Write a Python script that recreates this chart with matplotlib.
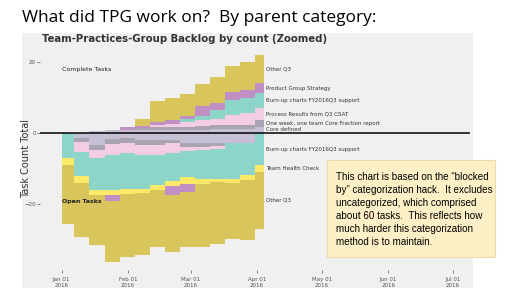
import numpy as np
import pandas as pd
import matplotlib
matplotlib.use("Agg")
import matplotlib.pyplot as plt
import matplotlib.dates as mdates
from matplotlib.patches import Rectangle

# weekly snapshots (start of each step) + end of data
dates = ["2016-01-01", "2016-01-07", "2016-01-14", "2016-01-21", "2016-01-28",
         "2016-02-04", "2016-02-11", "2016-02-18", "2016-02-25", "2016-03-03",
         "2016-03-10", "2016-03-17", "2016-03-24", "2016-03-31"]
end_date = "2016-04-04"

categories = ["Core defined", "One week, one team Core Fraction report",
              "Process Results from Q3 CSAT", "Burn-up charts FY2016Q3 support",
              "Team Health Check", "Product Group Strategy", "Other Q3"]

# completed tasks (stacked upwards)
done_core    = [0, 0, 0.5, 1.0, 0.8, 1.0, 1.0, 1.0, 1.0, 1.0, 1.2, 1.2, 1.2, 1.8]
done_oneweek = [0, 0, 0, 0, 0.2, 0.3, 0.8, 0.8, 0.7, 0.9, 1.0, 1.2, 1.2, 1.9]
done_process = [0, 0, 0, 0, 0, 0, 0.5, 0.8, 1.3, 1.9, 1.9, 2.8, 3.3, 3.3]
done_burnup  = [0, 0, 0, 0, 0, 0, 0, 0, 0.9, 0.9, 2.5, 4.2, 4.2, 4.2]
done_thc     = [0, 0, 0, 0, 0, 0, 0, 0, 0, 0, 0, 0, 0, 0]
done_pgs     = [0, 0, 0, 0, 0.8, 0.7, 0.8, 1.0, 1.0, 2.8, 1.9, 2.3, 2.3, 2.8]
done_other   = [0, 0, 0, 0, 0, 2.0, 6.0, 6.3, 6.1, 6.3, 7.2, 7.1, 7.8, 8.0]

# open tasks (stacked downwards)
open_core    = [0, 1.3, 3.4, 1.7, 1.4, 2.0, 2.0, 1.8, 2.9, 2.9, 2.9, 2.9, 2.9, 0]
open_oneweek = [0, 1.3, 1.4, 1.4, 1.4, 1.4, 1.4, 1.0, 1.1, 0.9, 0.6, 0, 0, 0]
open_process = [0, 2.8, 2.2, 3.1, 2.9, 2.8, 2.8, 2.9, 1.0, 1.0, 1.0, 0, 0, 0]
open_burnup  = [7.0, 6.7, 9.0, 9.8, 10.0, 9.4, 8.4, 7.9, 7.3, 8.0, 8.3, 10.1, 8.8, 9.0]
open_thc     = [2.0, 1.8, 1.5, 1.5, 1.5, 1.2, 1.4, 1.3, 1.9, 1.4, 1.0, 1.0, 1.6, 1.8]
open_pgs     = [0, 0, 0, 1.5, 0, 0, 0, 2.5, 2.3, 0, 0, 0, 0, 0]
open_other   = [16.5, 15.2, 14.0, 17.2, 17.6, 17.6, 16.0, 16.1, 15.5, 17.8, 17.3, 15.8, 16.7, 16.2]

colors = ["#c6c0d4", "#aaa3b1", "#f3cde3", "#8dd5c8", "#fde968", "#c18fc3", "#d8c65c"]

done = [done_core, done_oneweek, done_process, done_burnup, done_thc, done_pgs, done_other]
opn = [open_core, open_oneweek, open_process, open_burnup, open_thc, open_pgs, open_other]

x = pd.to_datetime(dates + [end_date])


def _ext(v):
    return np.array(v + [v[-1]], dtype=float)


panel_bg = "#f0f0f0"
fig = plt.figure(figsize=(5.12, 2.88), dpi=100)
fig.patch.set_facecolor("white")
fig.patches.append(Rectangle((22 / 512, 0), (473 - 22) / 512, 1 - 33 / 288,
                             transform=fig.transFigure, facecolor=panel_bg,
                             edgecolor="none", zorder=-5))

fig.text(22 / 512, 1 - 18 / 288, "What did TPG work on?  By parent category:",
         fontsize=12.5, family="Open Sans", va="center", ha="left", color="black")
fig.text(42 / 512, 1 - 39 / 288, "Team-Practices-Group Backlog by count (Zoomed)",
         fontsize=7.3, fontweight="bold", va="center", ha="left", color="#333333")

ax = fig.add_axes([40 / 512, 1 - 270 / 288, (470 - 40) / 512, (270 - 46) / 288])
ax.set_facecolor(panel_bg)
ax.set_zorder(1)

base = np.zeros(len(x))
for vals, c in zip(done, colors):
    top = base + _ext(vals)
    ax.fill_between(x, base, top, step="post", color=c, linewidth=0)
    base = top

base = np.zeros(len(x))
for vals, c in zip(opn, colors):
    bot = base - _ext(vals)
    ax.fill_between(x, base, bot, step="post", color=c, linewidth=0)
    base = bot

ax.axhline(0, color="black", linewidth=1.1, zorder=5)

# labels at the right end, centred on each band
lx = pd.Timestamp("2016-04-05")
b = 0.0
for name, vals in zip(categories, done):
    if vals[-1] > 0:
        ax.text(lx, b + vals[-1] / 2, name, fontsize=4, va="center", ha="left", color="#333333")
    b += vals[-1]
b = 0.0
for name, vals in zip(categories, opn):
    if vals[-1] > 0:
        ax.text(lx, b - vals[-1] / 2, name, fontsize=4, va="center", ha="left", color="#333333")
    b -= vals[-1]

ax.text(pd.Timestamp("2016-01-01"), 18.0, "Complete Tasks", fontsize=4.5, va="center", ha="left", color="#222222")
ax.text(pd.Timestamp("2016-01-01"), -19.2, "Open Tasks", fontsize=4.5, va="center", ha="left",
        color="#222222", fontweight="bold")

ax.set_xlim(pd.Timestamp("2015-12-22"), pd.Timestamp("2016-07-09"))
ax.set_ylim(-38.5, 24.5)
ax.set_yticks([-20, 0, 20])
ax.xaxis.set_major_locator(mdates.MonthLocator())
ax.xaxis.set_major_formatter(mdates.DateFormatter("%b %d\n%Y"))
ax.tick_params(labelsize=4, colors="#555555", length=2, width=0.5, pad=1)
ax.tick_params(axis="x", pad=3)
for s in ax.spines.values():
    s.set_visible(False)
ax.set_ylabel("Task Count Total", fontsize=7, color="#333333")
ax.yaxis.set_label_coords(-9 / 430, 0.5)

# yellow note box
fig.patches.append(Rectangle((327 / 512, 1 - 257 / 288), (495 - 327) / 512, (257 - 160) / 288,
                             transform=fig.transFigure, facecolor="#fdf0c6",
                             edgecolor="#efd9a6", linewidth=0.8, zorder=10))
fig.text(336 / 512, 1 - 172 / 288,
         "This chart is based on the \u201cblocked\nby\u201d categorization hack.  It excludes\n"
         "uncategorized, which comprised\nabout 60 tasks.  This reflects how\n"
         "much harder this categorization\nmethod is to maintain.",
         fontsize=7.1, family="Liberation Sans", va="top", ha="left", linespacing=1.38,
         color="black", zorder=11)

fig.savefig("out.png", dpi=100, facecolor=fig.get_facecolor())
